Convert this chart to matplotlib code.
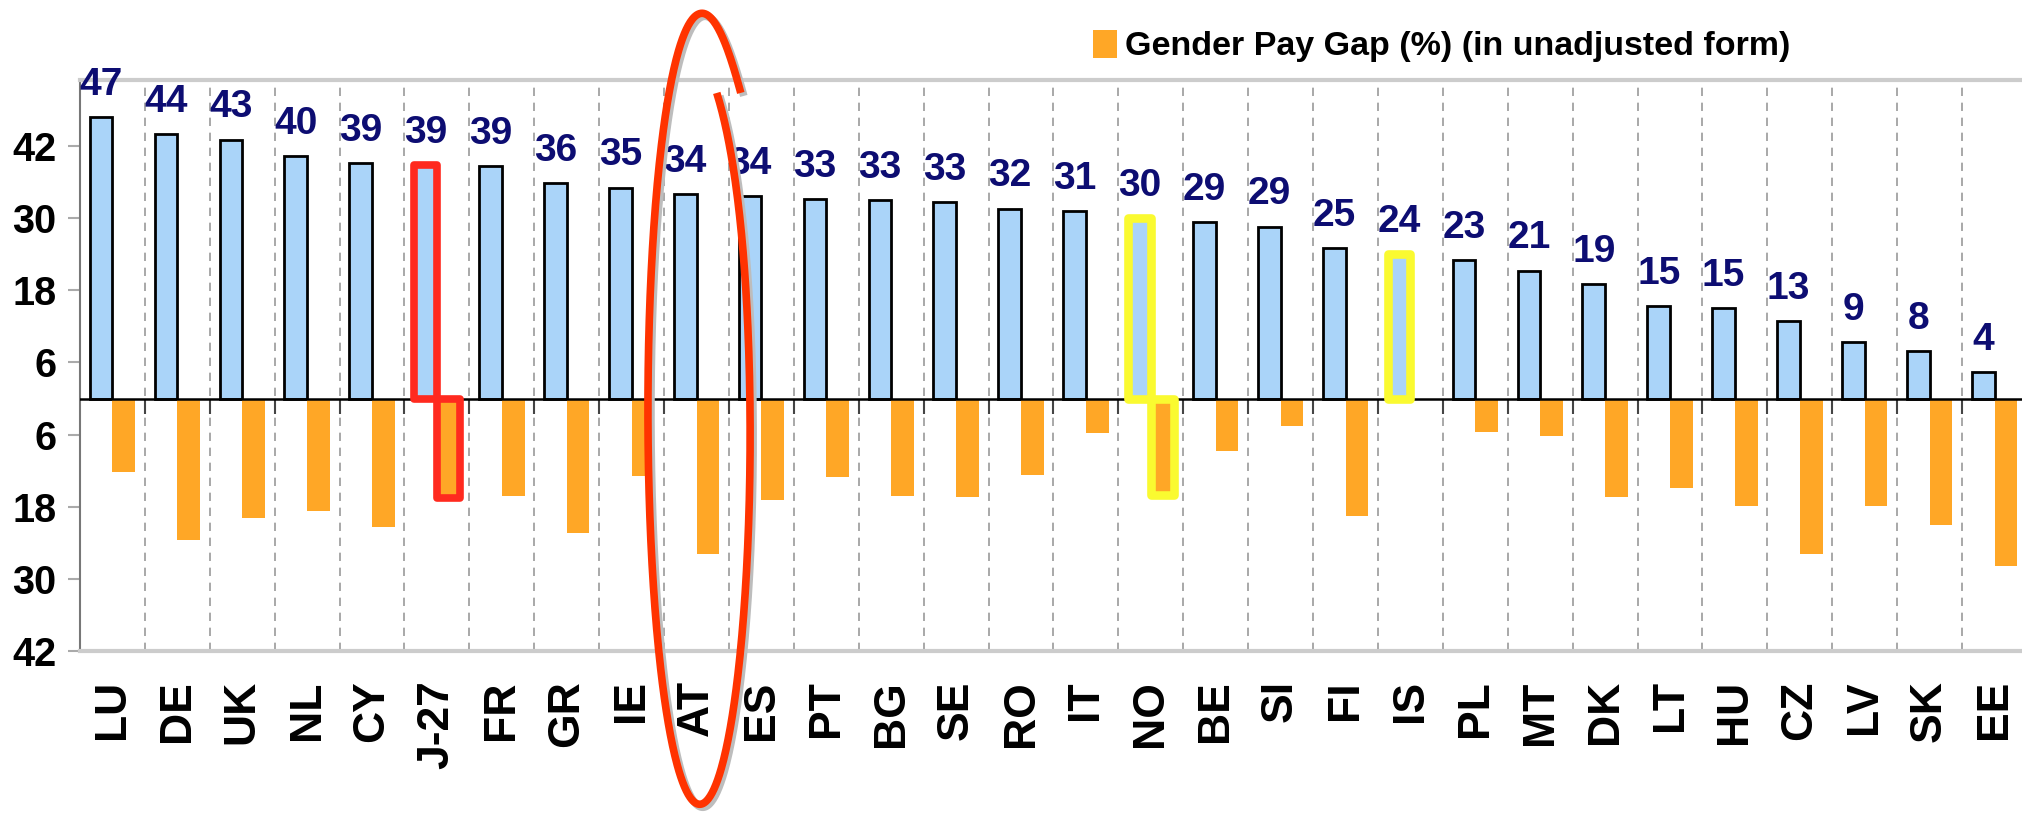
import numpy as np
import matplotlib
matplotlib.use('Agg')
import matplotlib.pyplot as plt
from matplotlib.patches import Rectangle
from matplotlib import transforms

# ---------------- data ----------------
countries = ['LU', 'DE', 'UK', 'NL', 'CY', 'J-27', 'FR', 'GR', 'IE', 'AT',
             'ES', 'PT', 'BG', 'SE', 'RO', 'IT', 'NO', 'BE', 'SI', 'FI',
             'IS', 'PL', 'MT', 'DK', 'LT', 'HU', 'CZ', 'LV', 'SK', 'EE']
blue_values = [46.8, 44.0, 43.1, 40.4, 39.2, 38.9, 38.7, 35.8, 35.1, 34.0,
               33.7, 33.2, 33.0, 32.7, 31.6, 31.2, 30.0, 29.4, 28.6, 25.0,
               24.0, 23.0, 21.3, 19.0, 15.4, 15.1, 12.9, 9.4, 7.9, 4.4]
blue_labels = ['47', '44', '43', '40', '39', '39', '39', '36', '35', '34',
               '34', '33', '33', '33', '32', '31', '30', '29', '29', '25',
               '24', '23', '21', '19', '15', '15', '13', '9', '8', '4']
pay_gap = [12.3, 23.5, 19.8, 18.7, 21.3, 16.6, 16.2, 22.3, 12.9, 25.8,
           16.9, 13.1, 16.2, 16.3, 12.7, 5.7, 16.0, 8.8, 4.5, 19.6,
           np.nan, 5.5, 6.3, 16.3, 14.9, 17.9, 25.8, 17.9, 21.1, 27.8]
ytick_values = [42, 30, 18, 6, -6, -18, -30, -42]
ytick_labels = ['42', '30', '18', '6', '6', '18', '30', '42']
legend_label = 'Gender Pay Gap (%) (in unadjusted form)'
red_boxed = ['J-27']
yellow_boxed = ['NO', 'IS']
circled = 'AT'

# ---------------- style ----------------
plt.rcParams['font.family'] = ['Liberation Sans', 'DejaVu Sans']
plt.rcParams['font.weight'] = 'bold'

W, H = 2022, 815
fig = plt.figure(figsize=(W / 100, H / 100), dpi=100)
ax = fig.add_axes([80 / W, 164 / H, 1947 / W, 571 / H])

BLUE = '#aad4f9'
ORANGE = '#ffa726'
NAVY = '#0d0d72'

x = np.arange(len(countries))
w = 0.35
bb = ax.bar(x - w / 2, blue_values, w, color=BLUE, edgecolor='black',
            linewidth=2, zorder=3)
ob = ax.bar(x + w / 2, -np.array(pay_gap), w, color=ORANGE, edgecolor='none',
            zorder=3, label=legend_label)

ax.set_xlim(-0.5, len(countries) - 0.5)
ax.set_ylim(-42, 53)

# category boundary dashed gridlines
bounds = np.arange(1, len(countries)) - 0.5
ax.vlines(bounds, -42, 53, colors='#9a9a9a', linestyles=(0, (5, 4)),
          linewidth=1.2, zorder=1)
ax.vlines(bounds, -2.6, 0, colors='#444444', linewidth=1.5, zorder=2)
ax.axhline(0, color='black', linewidth=1.8, zorder=4)

# spines
ax.spines['right'].set_visible(False)
ax.spines['left'].set_color('#777777')
ax.spines['left'].set_linewidth(1.5)
for s in ('top', 'bottom'):
    ax.spines[s].set_color('#cccccc')
    ax.spines[s].set_linewidth(3)

# ticks
ax.set_yticks(ytick_values)
ax.set_yticklabels(ytick_labels)
ax.tick_params(axis='y', length=9, width=1.5, color='#aaaaaa', labelsize=28.5,
               pad=8, labelcolor='black')
ax.set_xticks(x)
ax.set_xticklabels(countries, rotation=90, fontsize=32, fontweight='bold')
ax.tick_params(axis='x', length=0, pad=21)

# value labels
for xi, v, lbl in zip(x, blue_values, blue_labels):
    ax.annotate(lbl, (xi - w / 2, v), xytext=(0, 16), textcoords='offset points',
                ha='center', va='baseline', fontsize=28, color=NAVY,
                fontweight='bold', zorder=6)

# highlight boxes
def box(country, color, lw):
    i = countries.index(country)
    for bar in (bb[i], ob[i]):
        h = bar.get_height()
        if np.isfinite(h):
            ax.add_patch(Rectangle((bar.get_x(), bar.get_y()), bar.get_width(), h,
                                   fill=False, edgecolor=color, linewidth=lw,
                                   joinstyle='round', zorder=5))

for c in red_boxed:
    box(c, '#ff2a1f', 5.5)
for c in yellow_boxed:
    box(c, '#fafa30', 6.2)

# legend
fig.legend(handles=[ob], labels=[legend_label], loc='center left',
           bbox_to_anchor=(1093 / W, 1 - 46 / H), frameon=False, fontsize=24.5,
           handlelength=0.7, handleheight=0.9, handletextpad=0.25,
           borderpad=0, borderaxespad=0)

# hand-drawn ellipse around AT
i_at = countries.index(circled)
t_deg = np.linspace(37, 397, 500)
theta = np.radians(t_deg)
dx = -0.22 * np.exp(-(t_deg - 37) / 25) + 0.15 * np.exp(-(397 - t_deg) / 25)
ex = i_at + 0.05 + 0.80 * np.sin(theta) + dx
ey = -1.7 + 65.8 * np.cos(theta)
shadow_tr = transforms.offset_copy(ax.transData, fig=fig, x=3, y=-3, units='dots')
ax.plot(ex, ey, color='#bdbdbd', linewidth=5.5, transform=shadow_tr,
        clip_on=False, zorder=9, solid_capstyle='butt')
ax.plot(ex, ey, color='#ff3300', linewidth=5.5, clip_on=False, zorder=10,
        solid_capstyle='butt')

fig.savefig('out.png', dpi=100)
